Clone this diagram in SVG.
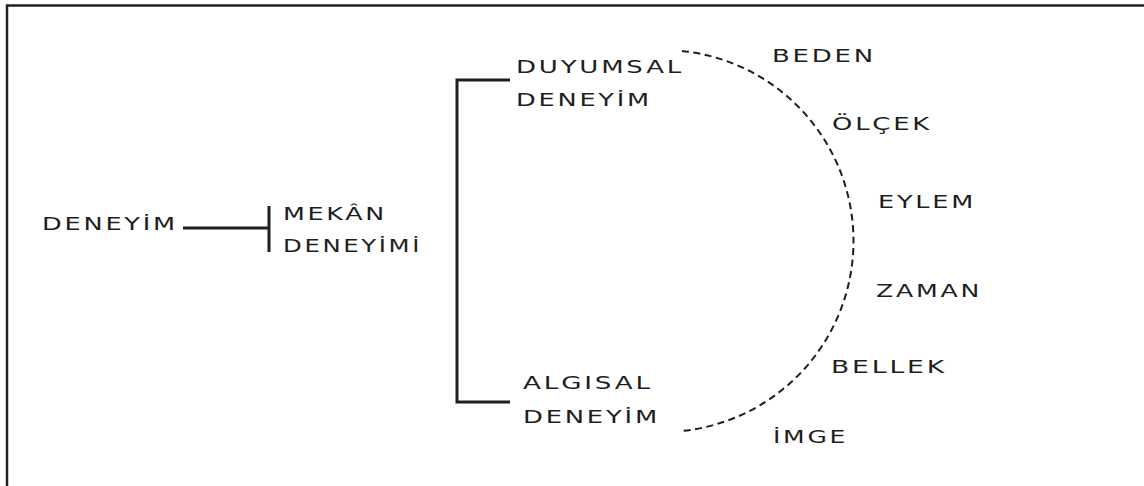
<svg xmlns="http://www.w3.org/2000/svg" width="1144" height="486" viewBox="0 0 1144 486">
<style>
  text { font-family: "DejaVu Sans", "Liberation Sans", sans-serif; font-size: 18.5px; letter-spacing: 2px; fill: #1e1e1e; }
  .solid { stroke: #1e1e1e; stroke-width: 3; fill: none; }
  .dash { stroke: #1e1e1e; stroke-width: 2; fill: none; stroke-dasharray: 7 4.5; }
  .frame { stroke: #222; stroke-width: 2.5; fill: none; }
</style>
<rect width="1144" height="486" fill="#ffffff"/>
<path class="frame" d="M 7 486 V 5.5 H 1144"/>
<g id="connectors">
  <path class="solid" d="M 183 228 H 269"/>
  <path class="solid" d="M 269 206 V 252"/>
  <path class="solid" d="M 510 80 H 457 V 402 H 510"/>
  <path class="dash" d="M 682 51 A 191 191 0 0 1 682 431"/>
</g>
<g id="deneyim"><text x="42" y="230" textLength="136" lengthAdjust="spacingAndGlyphs">DENEYİM</text></g>
<g id="mekan-deneyimi">
  <text x="283" y="220" textLength="104" lengthAdjust="spacingAndGlyphs">MEKÂN</text>
  <text x="283" y="252" textLength="139" lengthAdjust="spacingAndGlyphs">DENEYİMİ</text>
</g>
<g id="duyumsal-deneyim">
  <text x="516" y="73" textLength="168" lengthAdjust="spacingAndGlyphs">DUYUMSAL</text>
  <text x="516" y="106" textLength="136" lengthAdjust="spacingAndGlyphs">DENEYİM</text>
</g>
<g id="algisal-deneyim">
  <text x="523" y="389" textLength="130" lengthAdjust="spacingAndGlyphs">ALGISAL</text>
  <text x="523" y="423" textLength="137" lengthAdjust="spacingAndGlyphs">DENEYİM</text>
</g>
<g id="beden"><text x="772" y="62" textLength="104" lengthAdjust="spacingAndGlyphs">BEDEN</text></g>
<g id="olcek"><text x="832" y="130" textLength="100" lengthAdjust="spacingAndGlyphs">ÖLÇEK</text></g>
<g id="eylem"><text x="878" y="208" textLength="98" lengthAdjust="spacingAndGlyphs">EYLEM</text></g>
<g id="zaman"><text x="876" y="297" textLength="106" lengthAdjust="spacingAndGlyphs">ZAMAN</text></g>
<g id="bellek"><text x="831" y="373" textLength="116" lengthAdjust="spacingAndGlyphs">BELLEK</text></g>
<g id="imge"><text x="773" y="443" textLength="75" lengthAdjust="spacingAndGlyphs">İMGE</text></g>
</svg>
